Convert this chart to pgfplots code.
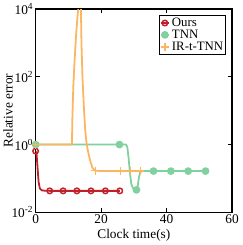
\documentclass[border=0pt]{standalone}
\usepackage{pgfplots}
\pgfplotsset{compat=1.18}
\usepackage{fontspec}
\setmainfont{Liberation Serif}
\definecolor{cours}{RGB}{192,32,40}
\definecolor{ctnn}{RGB}{128,208,160}
\definecolor{cir}{RGB}{252,182,96}
\begin{document}
\begin{tikzpicture}
\begin{axis}[
  scale only axis, width=199pt, height=206pt,
  font=\fontsize{13.5}{15}\selectfont,
  ymode=log, xmin=0, xmax=60, ymin=1e-2, ymax=1e4,
  xtick={0,20,40,60},
  ytick={1e-2,1,1e2,1e4},
  yticklabels={10\textsuperscript{-2},10\textsuperscript{0},10\textsuperscript{2},10\textsuperscript{4}},
  /pgf/number format/assume math mode=true,
  tick align=inside, tickpos=both,
  major tick length=4pt, minor tick length=2pt,
  axis line style={line width=1.3pt},
  every tick/.style={black, line width=0.7pt},
  xticklabel style={yshift=1pt},
  yticklabel style={xshift=1pt},
  xlabel={Clock time(s)}, ylabel={Relative error},
  xlabel style={yshift=1pt}, ylabel style={yshift=-8pt},
  legend pos=north east,
  legend style={font=\fontsize{13}{14}\selectfont, inner sep=0.5pt, row sep=-2pt, draw=black, line width=0.9pt, cells={anchor=west}},
  legend image code/.code={\draw[#1] (0cm,0cm) -- (0.3cm,0cm); \draw[#1, mark repeat=1, mark phase=1] plot coordinates {(0.15cm,0cm)};},
  every axis plot/.append style={line width=1.8pt, line join=round},
]
\addplot[cours, mark=o, mark size=2.8pt, mark options={line width=1.5pt, fill=none}, mark indices={1,7,8,9,10,11,12}] coordinates {
(0,0.64) (0.3,0.5) (0.6,0.2) (0.9,0.08) (1.3,0.05) (2,0.044)
(4.3,0.043) (8.4,0.043) (12.6,0.043) (16.9,0.043) (21.3,0.043) (25.7,0.043)};
\addlegendentry{Ours}
\addplot[ctnn, mark=*, mark size=3pt, mark indices={1,2,10,15,16,17,18}] coordinates {
(0,1) (25.6,1) (27.6,1) (28.0,0.85) (28.4,0.4) (28.8,0.15) (29.2,0.07) (29.7,0.052) (30.3,0.047)
(30.8,0.046) (31.2,0.06) (31.5,0.1) (31.9,0.15) (32.5,0.165) (36,0.165) (41.3,0.165) (46.6,0.165) (51.9,0.165)};
\addlegendentry{TNN}
\addplot[cir, mark=+, mark size=4pt, mark options={line width=1.3pt}, mark indices={1,16,19,20,21,22,23}] coordinates {
(0,1) (11.1,1) (11.2,5) (11.5,50) (11.9,300) (12.4,2000) (12.9,8000) (13.3,15000) (13.8,15000)
(14.0,1000) (14.3,100) (14.7,15) (15.1,3) (15.5,1.2) (15.9,0.7) (16.6,0.35) (17.3,0.21) (18.2,0.17)
(19.9,0.165) (22.9,0.165) (26,0.165) (28.9,0.165) (32,0.165)};
\addlegendentry{IR-t-TNN}
\end{axis}
\end{tikzpicture}
\end{document}
